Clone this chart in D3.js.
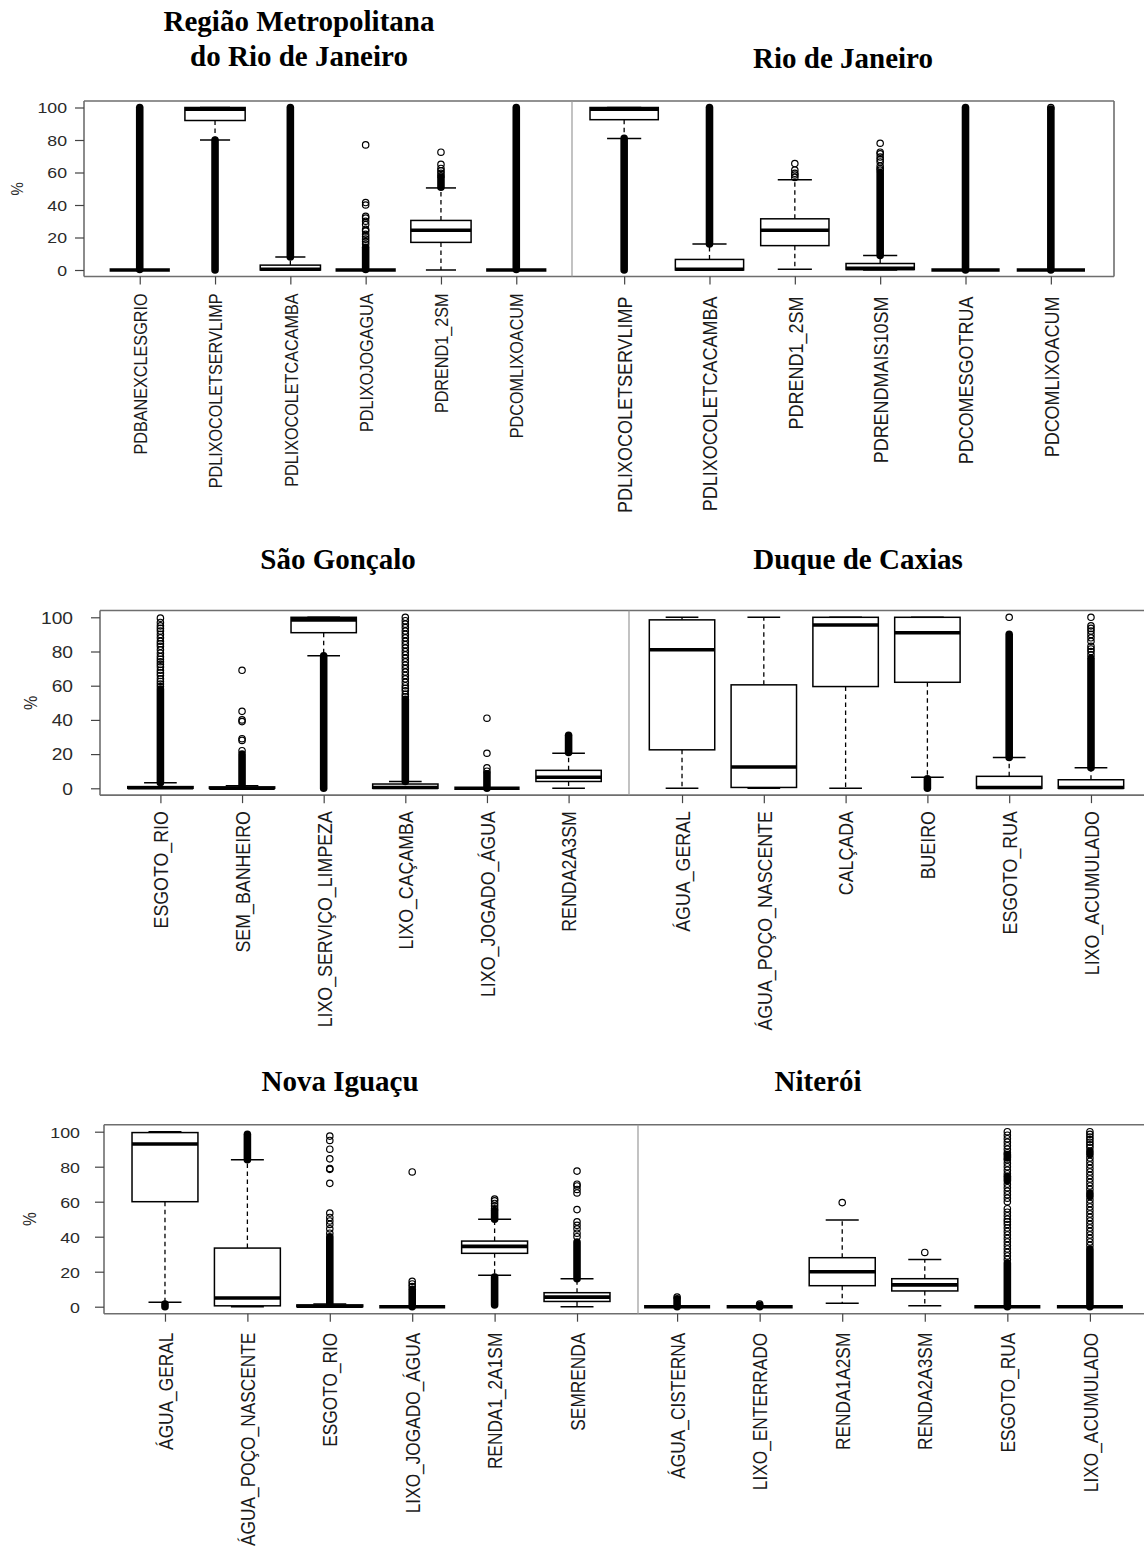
<!DOCTYPE html>
<html><head><meta charset="utf-8">
<script src="https://cdn.jsdelivr.net/npm/d3@7"></script>
<style>body{margin:0;background:#fff}</style>
</head><body><svg id="c" width="1144" height="1548"></svg>
<script>
// ---------------- DATA ----------------
const yTickValues = [0, 20, 40, 60, 80, 100];
const yAxisLabel = "%";

const titleRMRJ = ["Região Metropolitana", "do Rio de Janeiro"];
const varsRMRJ = ["PDBANEXCLESGRIO","PDLIXOCOLETSERVLIMP","PDLIXOCOLETCACAMBA","PDLIXOJOGAGUA","PDREND1_2SM","PDCOMLIXOACUM"];
// [lower whisker, q1, median, q3, upper whisker]
const statsRMRJ = [[0,0,0,0,0],[80,92,99,100,100],[0,0,0.5,3,8],[0,0,0,0,0],[0,17,24.5,30.5,50.5],[0,0,0,0,0]];
const denseRMRJ = [[[0.3,100]],[[0,80]],[[8,100]],[[0.3,14]],[[51,57]],[[0.3,100]]];
const outRMRJ = [[],[],[],[16,17.5,19,20.5,22,24,25,28,30,32,33,40,41.5,77],[58,59.5,61,62.5,65,72.5],[]];

const titleRJ = ["Rio de Janeiro"];
const varsRJ = ["PDLIXOCOLETSERVLIMP","PDLIXOCOLETCACAMBA","PDREND1_2SM","PDRENDMAIS10SM","PDCOMESGOTRUA","PDCOMLIXOACUM"];
const statsRJ = [[81,92.5,99,100,100],[0,0,0.5,6.5,16],[0.5,15,24.5,31.5,55.5],[0,0.3,1,4,9],[0,0,0,0,0],[0,0,0,0,0]];
const denseRJ = [[[0,81]],[[16,100]],[],[[9,60]],[[0,100]],[[0,99]]];
const outRJ = [[],[],[57,58.5,59.5,61.5,65.5],[61.5,62.5,64,66.5,68,69.5,71.5,72.5,78],[],[100]];

const titleSG = ["São Gonçalo"];
const varsSG = ["ESGOTO_RIO","SEM_BANHEIRO","LIXO_SERVIÇO_LIMPEZA","LIXO_CAÇAMBA","LIXO_JOGADO_ÁGUA","RENDA2A3SM"];
const statsSG = [[0,0,0.3,1,3.3],[0,0,0,0.8,1.5],[77.5,91,98.5,100,100],[0,0,0.5,2.5,4],[0,0,0,0,0],[0,4,6.5,10.5,20.5]];
const denseSG = [[[3.3,58]],[[1.5,20]],[[0,77.5]],[[4,52]],[[0,8.5]],[[21,31]]];
const outSG = [
  [59.5,61,62.5,64,66,67.5,69,71,72.5,74,75.5,77,79,81,83,84.5,86,88,90,92,93.5,95,97,99.5],
  [22,28,29,39,40,45,69],
  [],
  [53.5,55,57,58.5,60,62,64,66,68,70,72,74,76,78,80,82,84,86,88,90,92,94,96,98,100],
  [10,12,20.5,41],
  []
];

const titleDC = ["Duque de Caxias"];
const varsDC = ["ÁGUA_GERAL","ÁGUA_POÇO_NASCENTE","CALÇADA","BUEIRO","ESGOTO_RUA","LIXO_ACUMULADO"];
const statsDC = [[0,22.5,81,98.5,100],[0,0.5,12.5,60.5,100],[0,59.5,95.5,100,100],[6.5,62,91,100,100],[0,0,0.5,7,18],[0,0,0.5,5,12]];
const denseDC = [[],[],[],[[0,5.5]],[[18,90]],[[12,76]]];
const outDC = [[],[],[],[],[100],[78,80,81.5,83,86,88,90,92,93.5,95,100]];

const titleNI = ["Nova Iguaçu"];
const varsNI = ["ÁGUA_GERAL","ÁGUA_POÇO_NASCENTE","ESGOTO_RIO","LIXO_JOGADO_ÁGUA","RENDA1_2A1SM","SEMRENDA"];
const statsNI = [[2.5,60,93,99.5,100],[0,0.5,5,33.5,84],[0,0,0.3,1,1.5],[0,0,0,0,0],[18,30.5,34.5,37.5,50],[0,3,5.5,8,16]];
const denseNI = [[[0,1.5]],[[84,98.5]],[[1.5,40]],[[0,10]],[[50,55],[1,17]],[[16,37]]];
const outNI = [[],[],[42,44.5,47,49,51,53.5,70.5,78.5,79,84.5,90,95,97.5],[11.5,13,14.5,77],[56,57.5,59,60.5,61.5],[40,42,44.5,46.5,48.5,55.5,65,67,69,70,77.5]];

const titleNT = ["Niterói"];
const varsNT = ["ÁGUA_CISTERNA","LIXO_ENTERRADO","RENDA1A2SM","RENDA2A3SM","ESGOTO_RUA","LIXO_ACUMULADO"];
const statsNT = [[0,0,0,0,0],[0,0,0,0,0],[2,12,20,28,49.5],[0.5,9,12.5,16,27],[0,0,0,0,0],[0,0,0,0,0]];
const denseNT = [[[0,4.5]],[[0,0.8]],[],[],[[0,25],[85,87],[72,74.5]],[[0,33],[87,89],[63,65]]];
const outNT = [
  [5.5],[1.5],[59.5],[31],
  [27,29,31,33,35,37,39,41,43,45,47,48.5,50,52,54,56,60,62,64,66,68,70,76,78,80,82,84,88,90,92,94,96,98,100],
  [35,37,39,41,43,45,47,49,51,53,55,57,59,61,67,69,71,73,75,77,79,81,83,85,91,92.5,94,95.5,97,98.5,100]
];

// ---------------- LAYOUT ----------------
const panels = [
  {title:titleRMRJ, vars:varsRMRJ, stats:statsRMRJ, dense:denseRMRJ, outs:outRMRJ,
   tx:299, ty:[31,66], tfs:29, xr:[84,572], yr:[270,107.5], yAxis:true, tlx:67, tfsz:15, tsx:1.18,
   lfs:16.2, lsx:1.15, lab0:17, pctX:17},
  {title:titleRJ, vars:varsRJ, stats:statsRJ, dense:denseRJ, outs:outRJ,
   tx:843, ty:[68], tfs:29, xr:[561,1114], yr:[270,107.5], yAxis:false,
   lfs:18, lsx:1.15, lab0:20},
  {title:titleSG, vars:varsSG, stats:statsSG, dense:denseSG, outs:outSG,
   tx:338, ty:[569], tfs:29, xr:[100,629], yr:[788.3,617.3], yAxis:true, tlx:73, tfsz:16, tsx:1.2,
   lfs:17.8, lsx:1.15, lab0:16, pctX:30},
  {title:titleDC, vars:varsDC, stats:statsDC, dense:denseDC, outs:outDC,
   tx:858, ty:[569], tfs:29, xr:[621.5,1151.5], yr:[788.3,617.3], yAxis:false,
   lfs:17.8, lsx:1.15, lab0:16},
  {title:titleNI, vars:varsNI, stats:statsNI, dense:denseNI, outs:outNI,
   tx:340, ty:[1091], tfs:29, xr:[104,638], yr:[1306.7,1131.7], yAxis:true, tlx:80, tfsz:15.5, tsx:1.15,
   lfs:17.3, lsx:1.15, lab0:19, pctX:30},
  {title:titleNT, vars:varsNT, stats:statsNT, dense:denseNT, outs:outNT,
   tx:818, ty:[1091], tfs:29, xr:[616,1151], yr:[1306.7,1131.7], yAxis:false,
   lfs:17.3, lsx:1.15, lab0:19}
];
const frames = [
  {l:84, r:1114, div:572, rightEdge:true, yr:[270,107.5]},
  {l:100, r:1144, div:629, rightEdge:false, yr:[788.3,617.3]},
  {l:104, r:1144, div:638, rightEdge:false, yr:[1306.7,1131.7]}
];

const svg = d3.select("#c");
const SANS = "'Liberation Sans', Arial, sans-serif";
const SERIF = "'Liberation Serif', 'Times New Roman', serif";

// frames
frames.forEach(f => {
  const y = d3.scaleLinear().domain([0,100]).range(f.yr);
  const g = svg.append("g").attr("fill","none").attr("stroke","#6e6e6e").attr("stroke-width",1.6);
  g.append("line").attr("x1",f.l).attr("x2",f.r).attr("y1",y(104)).attr("y2",y(104));
  g.append("line").attr("x1",f.l).attr("x2",f.r).attr("y1",y(-4)).attr("y2",y(-4));
  g.append("line").attr("x1",f.l).attr("x2",f.l).attr("y1",y(104)).attr("y2",y(-4));
  g.append("line").attr("x1",f.div).attr("x2",f.div).attr("y1",y(104)).attr("y2",y(-4)).attr("stroke","#9a9a9a").attr("stroke-width",1.2);
  if (f.rightEdge) g.append("line").attr("x1",f.r).attr("x2",f.r).attr("y1",y(104)).attr("y2",y(-4));
});

panels.forEach(p => {
  const x = d3.scaleLinear().domain([0.26, 6.74]).range(p.xr);
  const y = d3.scaleLinear().domain([0,100]).range(p.yr);
  const step = x(2) - x(1), bw = 0.8*step, sw = 0.4*step;
  const g = svg.append("g");

  // title
  p.title.forEach((t,k) => {
    g.append("text").attr("x",p.tx).attr("y",p.ty[k]).attr("text-anchor","middle")
      .attr("font-family",SERIF).attr("font-weight","bold").attr("font-size",p.tfs).attr("fill","#000").text(t);
  });

  // y axis
  if (p.yAxis) {
    const xl = p.xr[0];
    const ax = g.append("g").attr("transform",`translate(${xl},0)`)
      .call(d3.axisLeft(y).tickValues(yTickValues).tickSize(9).tickFormat(d3.format("d")));
    ax.select(".domain").remove();
    ax.selectAll(".tick line").attr("stroke","#444").attr("stroke-width",1.2);
    ax.selectAll(".tick text").attr("x",null).attr("dy","0.36em")
      .attr("transform",`translate(${p.tlx - xl},0) scale(${p.tsx},1)`)
      .attr("font-family",SANS).attr("font-size",p.tfsz).attr("fill","#2a2a2a");
    const ym = (y(104)+y(-4))/2;
    g.append("text").attr("transform",`translate(${p.pctX},${ym}) scale(1.15,1) rotate(-90)`)
      .attr("text-anchor","middle").attr("dy","0.36em").attr("font-family",SANS)
      .attr("font-size",p.tfsz).attr("fill","#2a2a2a").text(yAxisLabel);
  }

  // x axis
  const yb = y(-4);
  const xa = g.append("g").attr("transform",`translate(0,${yb})`)
    .call(d3.axisBottom(x).tickValues(d3.range(1, p.vars.length+1)).tickSize(8).tickFormat(i => p.vars[i-1]));
  xa.select(".domain").remove();
  xa.selectAll(".tick line").attr("stroke","#444").attr("stroke-width",1.2);
  xa.selectAll(".tick text").attr("y",null).attr("x",null).attr("dy","0.36em")
    .attr("text-anchor","end")
    .attr("transform",`translate(0,${p.lab0}) scale(${p.lsx},1) rotate(-90)`)
    .attr("font-family",SANS).attr("font-size",p.lfs).attr("fill","#1a1a1a");

  // boxes
  p.vars.forEach((v,i) => {
    const cx = x(i+1);
    const [lw,q1,md,q3,uw] = p.stats[i];
    const b = g.append("g").attr("stroke","#000").attr("fill","none");
    if (uw > q3) b.append("line").attr("x1",cx).attr("x2",cx).attr("y1",y(q3)).attr("y2",y(uw))
      .attr("stroke-width",1.3).attr("stroke-dasharray","4.5,3.5");
    if (lw < q1) b.append("line").attr("x1",cx).attr("x2",cx).attr("y1",y(q1)).attr("y2",y(lw))
      .attr("stroke-width",1.3).attr("stroke-dasharray","4.5,3.5");
    [uw, lw].forEach(w => b.append("line").attr("x1",cx-sw/2).attr("x2",cx+sw/2)
      .attr("y1",y(w)).attr("y2",y(w)).attr("stroke-width",1.5));
    b.append("rect").attr("x",cx-bw/2).attr("width",bw).attr("y",y(q3)).attr("height",Math.max(0,y(q1)-y(q3)))
      .attr("fill","#fff").attr("stroke-width",1.5);
    b.append("line").attr("x1",cx-bw/2).attr("x2",cx+bw/2).attr("y1",y(md)).attr("y2",y(md)).attr("stroke-width",3.6);
    p.dense[i].forEach(([lo,hi]) => b.append("line").attr("x1",cx).attr("x2",cx)
      .attr("y1",y(lo)).attr("y2",y(hi)).attr("stroke-width",7.6).attr("stroke-linecap","round"));
    p.outs[i].forEach(o => b.append("circle").attr("cx",cx).attr("cy",y(o)).attr("r",3.2).attr("stroke-width",1.2));
  });
});
</script></body></html>
